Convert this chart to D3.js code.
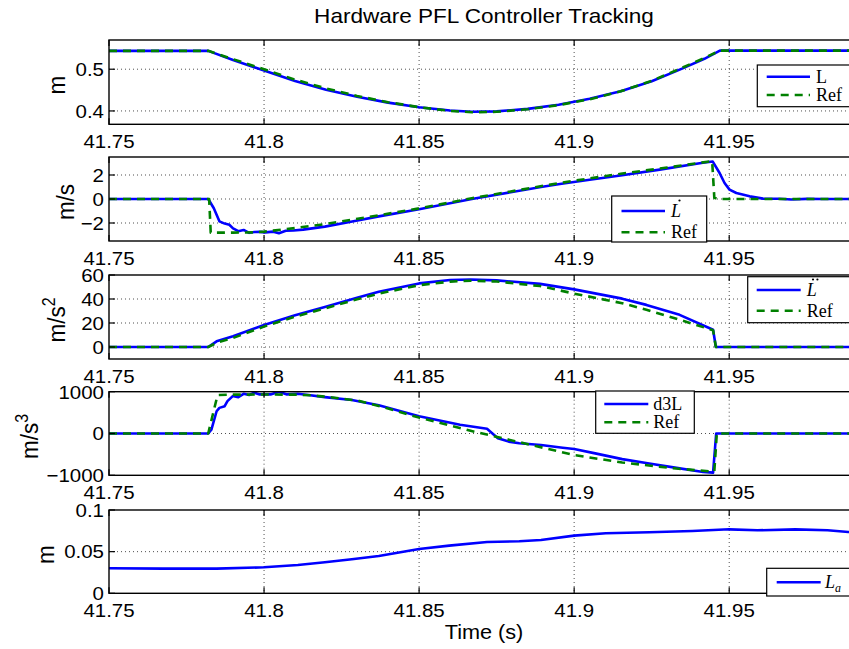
<!DOCTYPE html>
<html>
<head>
<meta charset="utf-8">
<script src="https://cdn.jsdelivr.net/npm/d3@7"></script>
<style>
  body { margin: 0; background: #fff; }
  svg { display: block; }
  text { font-family: "Liberation Sans", Arial, sans-serif; fill: #000; }
</style>
</head>
<body>
<svg id="chart" width="849" height="649"></svg>
<script>
// ---- data ----
const xTicks = [41.75, 41.8, 41.85, 41.9, 41.95];
const xRange = [41.75, 41.9925];

// L (m)
const tL = [41.75, 41.782, 41.79, 41.8, 41.81, 41.82, 41.83, 41.84, 41.85, 41.86, 41.867, 41.875, 41.885, 41.895, 41.905, 41.915, 41.925, 41.935, 41.942, 41.947, 41.9925];
const valL = [0.544, 0.544, 0.522, 0.497, 0.472, 0.451, 0.434, 0.42, 0.409, 0.401, 0.398, 0.399, 0.405, 0.415, 0.429, 0.447, 0.471, 0.502, 0.525, 0.5445, 0.5445];
const valLRef = [0.544, 0.544, 0.524, 0.5, 0.475, 0.454, 0.436, 0.421, 0.409, 0.4, 0.397, 0.398, 0.404, 0.414, 0.428, 0.447, 0.472, 0.504, 0.527, 0.5445, 0.5445];

// L dot (m/s)
const tLd = [41.75, 41.782, 41.7838, 41.7856, 41.7873, 41.7888, 41.79, 41.7917, 41.7934, 41.7952, 41.7969, 41.7986, 41.8004, 41.803, 41.8048, 41.807, 41.8095, 41.8126, 41.8196, 41.828, 41.837, 41.85, 41.867, 41.8893, 41.8954, 41.905, 41.9155, 41.9276, 41.9415, 41.9447, 41.9469, 41.9485, 41.9501, 41.9523, 41.9566, 41.9609, 41.966, 41.97, 41.975, 41.98, 41.9925];
const valLd = [0, 0, -0.77, -1.86, -2.05, -2.15, -2.45, -2.68, -2.58, -2.82, -2.75, -2.74, -2.78, -2.72, -2.86, -2.65, -2.62, -2.55, -2.3, -1.9, -1.45, -0.85, 0, 1.0, 1.25, 1.6, 1.98, 2.45, 3.02, 3.12, 2.17, 1.33, 0.78, 0.5, 0.22, 0.03, 0.02, -0.04, 0.01, 0, 0];
const tLdRef = [41.75, 41.7823, 41.7828, 41.79, 41.797, 41.8, 41.81, 41.82, 41.837, 41.85, 41.867, 41.89, 41.9, 41.915, 41.93, 41.9445, 41.9452, 41.9465, 41.9925];
const valLdRef = [0, 0, -2.8, -2.8, -2.78, -2.72, -2.42, -2.08, -1.36, -0.78, 0.06, 1.1, 1.52, 2.1, 2.62, 3.16, 0.1, 0, 0];

// L ddot (m/s^2)
const tLdd = [41.75, 41.782, 41.7847, 41.79, 41.8, 41.81, 41.8196, 41.83, 41.837, 41.85, 41.86, 41.8666, 41.875, 41.889, 41.9, 41.9155, 41.9233, 41.934, 41.9448, 41.9457, 41.9925];
const valLdd = [0, 0, 4.7, 9, 18.4, 26.5, 33.4, 41, 46, 53, 55.8, 56.3, 55.5, 52.6, 48, 40.3, 35.1, 26.8, 14.4, 0, 0];
const valLddRef = [0, 0, 3.5, 7.5, 17, 25.3, 32.2, 39.8, 44.5, 51.5, 54.5, 55.2, 54.6, 50.8, 44.5, 36.5, 31, 22.7, 14, 0, 0];

// d3L (m/s^3)
const tJ = [41.75, 41.782, 41.783, 41.7847, 41.7856, 41.7873, 41.7882, 41.7899, 41.7917, 41.7934, 41.7952, 41.7969, 41.7986, 41.8021, 41.8048, 41.8074, 41.8109, 41.8143, 41.8196, 41.8283, 41.837, 41.85, 41.8632, 41.8719, 41.8754, 41.8789, 41.8823, 41.8893, 41.8963, 41.9, 41.9068, 41.9155, 41.9242, 41.933, 41.9416, 41.9448, 41.9458, 41.9925];
const valJ = [0, 0, 89, 532, 613, 653, 774, 895, 870, 950, 920, 976, 935, 935, 1000, 935, 950, 920, 871, 800, 677, 411, 210, 113, -113, -194, -234, -274, -339, -371, -476, -613, -718, -823, -919, -935, 0, 0];
const tJRef = [41.75, 41.782, 41.785, 41.79, 41.8, 41.81, 41.815, 41.82, 41.83, 41.837, 41.85, 41.8666, 41.8806, 41.9, 41.9155, 41.933, 41.9434, 41.9452, 41.946, 41.9925];
const valJRef = [0, 0, 919, 930, 932, 930, 915, 880, 790, 660, 380, 65, -177, -516, -694, -839, -903, -905, 0, 0];

// L_a (m)
const tLa = [41.75, 41.7673, 41.7847, 41.8, 41.8109, 41.8196, 41.8283, 41.837, 41.85, 41.8597, 41.8719, 41.8823, 41.8893, 41.9, 41.9102, 41.9242, 41.9381, 41.95, 41.9591, 41.9713, 41.9817, 41.9884, 41.9925];
const valLa = [0.03, 0.0296, 0.0296, 0.0312, 0.034, 0.0372, 0.0408, 0.0448, 0.0532, 0.0572, 0.0616, 0.0624, 0.064, 0.0692, 0.072, 0.0732, 0.0748, 0.0768, 0.0756, 0.0768, 0.0756, 0.0736, 0.072];

const zip = (t, v) => t.map((d, i) => [d, v[i]]);
const minus = s => String(s).replace('-', '\u2212');

// ---- layout ----
const svg = d3.select('#chart');
const left = 109, right = 861;
const SX = 1.1; // the figure's sans text is a bit wide
const x = d3.scaleLinear(xRange, [left, right]);
const BLUE = '#0000ff', GREEN = '#008000';
const SERIF = '"Liberation Serif", "Times New Roman", serif';

// sans text, stretched horizontally like the reference
const stext = (sel, px, py, str, size, anchor) => sel.append('text')
  .attr('transform', `translate(${px},${py}) scale(${SX},1)`)
  .attr('text-anchor', anchor)
  .style('font-size', size + 'px')
  .text(str);

const panels = [
  { top: 40, bottom: 124.3, domain: [0.368, 0.57], yTicks: [0.4, 0.5],
    ylab: { text: 'm', sup: null, x: 64.5 },
    series: [{ d: zip(tL, valL) }, { d: zip(tL, valLRef), ref: true }],
    legend: { x: 757.3, y: 65, w: 100, h: 41.7, rows: [76.7, 95], lx: [766.7, 810], tx: 816,
      labels: [{ t: 'L' }, { t: 'Ref' }] } },
  { top: 157, bottom: 241, domain: [-3.5, 3.5], yTicks: [-2, 0, 2],
    ylab: { text: 'm/s', sup: null, x: 73.5 },
    series: [{ d: zip(tLd, valLd) }, { d: zip(tLdRef, valLdRef), ref: true }],
    legend: { x: 611.7, y: 196, w: 95, h: 46, rows: [211, 232.3], lx: [621.5, 665], tx: 671,
      labels: [{ t: 'L', italic: true, dots: 1 }, { t: 'Ref' }] } },
  { top: 275, bottom: 359, domain: [-10, 60], yTicks: [0, 20, 40, 60],
    ylab: { text: 'm/s', sup: '2', x: 65 },
    series: [{ d: zip(tLdd, valLdd) }, { d: zip(tLdd, valLddRef), ref: true }],
    legend: { x: 747.7, y: 276.7, w: 110, h: 46, rows: [290, 310.7], lx: [756.7, 800.7], tx: 806.7,
      labels: [{ t: 'L', italic: true, dots: 2 }, { t: 'Ref' }] } },
  { top: 391.7, bottom: 475.3, domain: [-1000, 1000], yTicks: [-1000, 0, 1000],
    ylab: { text: 'm/s', sup: '3', x: 38 },
    series: [{ d: zip(tJ, valJ) }, { d: zip(tJRef, valJRef), ref: true }],
    legend: { x: 595.7, y: 391, w: 98.6, h: 42.3, rows: [404, 422.3], lx: [604.3, 648.3], tx: 653.3,
      labels: [{ t: 'd3L' }, { t: 'Ref' }] } },
  { top: 510, bottom: 593.3, domain: [0, 0.1], yTicks: [0, 0.05, 0.1],
    ylab: { text: 'm', sup: null, x: 53.5 },
    series: [{ d: zip(tLa, valLa) }],
    legend: { x: 766.7, y: 568.3, w: 100, h: 27.7, rows: [582.3], lx: [776.7, 820.7], tx: 825,
      labels: [{ t: 'L', italic: true, sub: 'a' }] } }
];

// title
stext(svg, 484, 23, 'Hardware PFL Controller Tracking', 20.5, 'middle');

panels.forEach((p, i) => {
  const y = d3.scaleLinear(p.domain, [p.bottom, p.top]);
  const g = svg.append('g');
  const clipId = 'clip' + i;
  g.append('clipPath').attr('id', clipId)
    .append('rect').attr('x', left).attr('y', p.top)
    .attr('width', right - left).attr('height', p.bottom - p.top);

  // grid
  const grid = g.append('g')
    .attr('stroke', '#222').attr('stroke-width', 0.8).attr('stroke-dasharray', '1,3');
  xTicks.filter(t => t > xRange[0]).forEach(t => {
    grid.append('line').attr('x1', x(t)).attr('x2', x(t)).attr('y1', p.top).attr('y2', p.bottom);
  });
  p.yTicks.filter(v => v > p.domain[0] && v < p.domain[1]).forEach(v => {
    grid.append('line').attr('x1', left).attr('x2', right).attr('y1', y(v)).attr('y2', y(v));
  });

  // series
  const line = d3.line().x(d => x(d[0])).y(d => y(d[1]));
  const plot = g.append('g').attr('clip-path', `url(#${clipId})`);
  p.series.forEach(s => {
    plot.append('path')
      .attr('d', line(s.d))
      .attr('fill', 'none')
      .attr('stroke', s.ref ? GREEN : BLUE)
      .attr('stroke-width', 2.6)
      .attr('stroke-linejoin', 'round')
      .attr('stroke-dasharray', s.ref ? '8,6' : null);
  });

  // box
  g.append('rect')
    .attr('x', left).attr('y', p.top)
    .attr('width', right - left).attr('height', p.bottom - p.top)
    .attr('fill', 'none').attr('stroke', '#000').attr('stroke-width', 1.4);

  // x ticks (inside, top and bottom)
  xTicks.forEach(t => {
    g.append('line').attr('x1', x(t)).attr('x2', x(t))
      .attr('y1', p.bottom).attr('y2', p.bottom - 6).attr('stroke', '#000').attr('stroke-width', 1.2);
    g.append('line').attr('x1', x(t)).attr('x2', x(t))
      .attr('y1', p.top).attr('y2', p.top + 6).attr('stroke', '#000').attr('stroke-width', 1.2);
    stext(g, x(t), p.bottom + 24, String(t), 18.6, 'middle');
  });

  // y ticks
  p.yTicks.forEach(v => {
    g.append('line').attr('x1', left).attr('x2', left + 6)
      .attr('y1', y(v)).attr('y2', y(v)).attr('stroke', '#000').attr('stroke-width', 1.2);
    stext(g, left - 5, y(v) + 6.8, minus(v), 18.6, 'end');
  });

  // y label (rotated; the horizontal stretch becomes a stretch of the glyph height)
  const cy = (p.top + p.bottom) / 2 + 3;
  const yl = g.append('text')
    .attr('transform', `translate(${p.ylab.x},${cy}) rotate(-90) scale(1,${SX})`)
    .attr('text-anchor', 'middle')
    .style('font-size', '22.5px')
    .text(p.ylab.text);
  if (p.ylab.sup) {
    yl.append('tspan').attr('dy', -9).style('font-size', '16px').text(p.ylab.sup);
  }

  // legend
  const lg = p.legend;
  const leg = g.append('g');
  leg.append('rect')
    .attr('x', lg.x).attr('y', lg.y).attr('width', lg.w).attr('height', lg.h)
    .attr('fill', '#fff').attr('stroke', '#000').attr('stroke-width', 1.2);
  lg.labels.forEach((lab, k) => {
    const ry = lg.rows[k];
    const isRef = lab.t === 'Ref';
    leg.append('line')
      .attr('x1', lg.lx[0]).attr('x2', lg.lx[1]).attr('y1', ry).attr('y2', ry)
      .attr('stroke', isRef ? GREEN : BLUE).attr('stroke-width', 2.6)
      .attr('stroke-dasharray', isRef ? '8,6' : null);
    const tx = leg.append('text')
      .attr('x', lg.tx).attr('y', ry + 6)
      .style('font-family', SERIF)
      .style('font-size', '18px')
      .style('font-style', lab.italic ? 'italic' : 'normal')
      .text(lab.t);
    if (lab.sub) {
      tx.append('tspan').attr('dy', 4).style('font-size', '12px').text(lab.sub);
    }
    if (lab.dots) {
      // derivative dots over the italic L
      const cx = lg.tx + 8.5;
      const offs = lab.dots === 1 ? [0] : [-2.2, 2.2];
      offs.forEach(o => {
        leg.append('circle').attr('cx', cx + o).attr('cy', ry - 10.5).attr('r', 1.1).attr('fill', '#000');
      });
    }
  });
});

// x label
stext(svg, 484, 639, 'Time (s)', 19.7, 'middle');
</script>
</body>
</html>
